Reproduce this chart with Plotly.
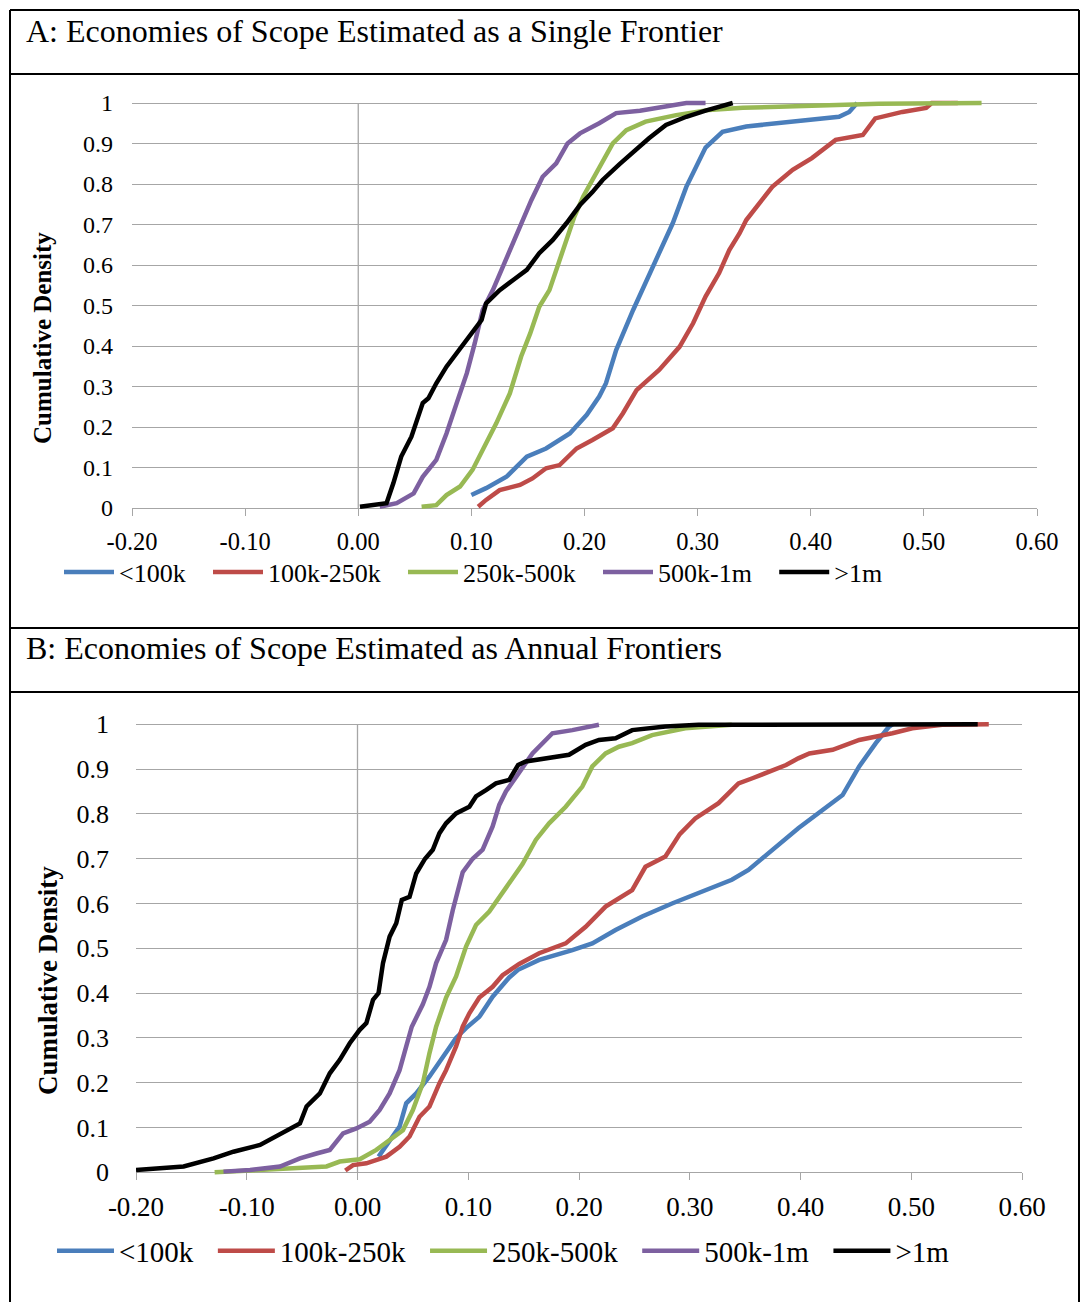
import plotly.graph_objects as go

# ---------------- data ----------------
series_names = ["<100k", "100k-250k", "250k-500k", "500k-1m", ">1m"]
series_colors = ["#4A7EBB", "#BE4B48", "#98B954", "#7D60A0", "#000000"]

x_ticks = [-0.2, -0.1, 0.0, 0.1, 0.2, 0.3, 0.4, 0.5, 0.6]
x_tick_labels = ["-0.20", "-0.10", "0.00", "0.10", "0.20", "0.30", "0.40", "0.50", "0.60"]
y_ticks = [0, 0.1, 0.2, 0.3, 0.4, 0.5, 0.6, 0.7, 0.8, 0.9, 1]
y_tick_labels = ["0", "0.1", "0.2", "0.3", "0.4", "0.5", "0.6", "0.7", "0.8", "0.9", "1"]

title_a = "A: Economies of Scope Estimated as a Single Frontier"
title_b = "B: Economies of Scope Estimated as Annual Frontiers"
y_title = "Cumulative Density"

# Panel A
a_lt100k_x = [0.100, 0.113, 0.131, 0.149, 0.166, 0.187, 0.202, 0.213, 0.219, 0.228, 0.243, 0.260, 0.278, 0.290, 0.296, 0.307, 0.322, 0.343, 0.425, 0.434, 0.441]
a_lt100k_y = [0.032, 0.049, 0.077, 0.127, 0.147, 0.184, 0.230, 0.275, 0.308, 0.390, 0.489, 0.596, 0.703, 0.793, 0.826, 0.890, 0.929, 0.942, 0.966, 0.978, 1.0]

a_100_250_x = [0.106, 0.113, 0.125, 0.143, 0.154, 0.166, 0.178, 0.193, 0.207, 0.225, 0.234, 0.246, 0.266, 0.284, 0.296, 0.307, 0.319, 0.328, 0.337, 0.343, 0.366, 0.384, 0.401, 0.422, 0.446, 0.457, 0.481, 0.502, 0.507, 0.530]
a_100_250_y = [0.003, 0.020, 0.044, 0.057, 0.073, 0.098, 0.106, 0.147, 0.168, 0.197, 0.234, 0.291, 0.341, 0.398, 0.456, 0.522, 0.580, 0.637, 0.678, 0.711, 0.793, 0.835, 0.864, 0.909, 0.921, 0.962, 0.978, 0.988, 1.0, 1.0]

a_250_500_x = [0.056, 0.069, 0.078, 0.090, 0.101, 0.110, 0.122, 0.134, 0.144, 0.152, 0.160, 0.169, 0.176, 0.184, 0.191, 0.199, 0.207, 0.216, 0.225, 0.237, 0.254, 0.281, 0.310, 0.340, 0.372, 0.460, 0.551]
a_250_500_y = [0.003, 0.007, 0.032, 0.053, 0.094, 0.143, 0.209, 0.283, 0.374, 0.431, 0.497, 0.538, 0.596, 0.662, 0.719, 0.770, 0.810, 0.859, 0.900, 0.933, 0.954, 0.970, 0.983, 0.988, 0.991, 0.998, 1.0]

a_500_1m_x = [0.019, 0.034, 0.049, 0.057, 0.069, 0.078, 0.087, 0.096, 0.103, 0.110, 0.119, 0.128, 0.137, 0.144, 0.153, 0.163, 0.175, 0.185, 0.196, 0.213, 0.228, 0.249, 0.272, 0.290, 0.307]
a_500_1m_y = [0.003, 0.012, 0.036, 0.077, 0.119, 0.184, 0.259, 0.333, 0.407, 0.489, 0.538, 0.596, 0.654, 0.703, 0.760, 0.818, 0.851, 0.900, 0.925, 0.950, 0.975, 0.981, 0.991, 1.0, 1.0]

a_gt1m_x = [0.0015, 0.025, 0.031, 0.038, 0.047, 0.057, 0.062, 0.069, 0.078, 0.090, 0.101, 0.109, 0.113, 0.125, 0.137, 0.149, 0.160, 0.172, 0.184, 0.196, 0.207, 0.216, 0.231, 0.243, 0.257, 0.272, 0.290, 0.307, 0.320, 0.331]
a_gt1m_y = [0.003, 0.012, 0.061, 0.127, 0.176, 0.259, 0.271, 0.308, 0.349, 0.394, 0.431, 0.464, 0.505, 0.538, 0.563, 0.588, 0.629, 0.662, 0.703, 0.748, 0.780, 0.810, 0.849, 0.880, 0.913, 0.946, 0.966, 0.981, 0.990, 1.0]

# Panel B
b_lt100k_x = [0.019, 0.029, 0.038, 0.044, 0.053, 0.065, 0.077, 0.089, 0.098, 0.110, 0.122, 0.137, 0.145, 0.164, 0.194, 0.212, 0.233, 0.257, 0.284, 0.308, 0.338, 0.353, 0.368, 0.398, 0.438, 0.453, 0.468, 0.480, 0.483]
b_lt100k_y = [0.035, 0.072, 0.102, 0.154, 0.176, 0.214, 0.258, 0.300, 0.322, 0.347, 0.392, 0.435, 0.452, 0.474, 0.496, 0.511, 0.541, 0.571, 0.600, 0.623, 0.653, 0.675, 0.705, 0.768, 0.842, 0.906, 0.958, 0.995, 1.0]

b_100_250_x = [-0.011, -0.004, 0.008, 0.017, 0.026, 0.038, 0.047, 0.056, 0.065, 0.074, 0.080, 0.089, 0.095, 0.101, 0.110, 0.122, 0.131, 0.146, 0.164, 0.188, 0.206, 0.224, 0.248, 0.260, 0.278, 0.291, 0.305, 0.326, 0.344, 0.356, 0.374, 0.387, 0.398, 0.408, 0.429, 0.453, 0.483, 0.501, 0.528, 0.570]
b_100_250_y = [0.004, 0.016, 0.020, 0.028, 0.035, 0.057, 0.080, 0.124, 0.147, 0.199, 0.228, 0.281, 0.325, 0.355, 0.390, 0.414, 0.440, 0.465, 0.489, 0.511, 0.548, 0.593, 0.630, 0.682, 0.705, 0.755, 0.790, 0.824, 0.868, 0.879, 0.898, 0.909, 0.924, 0.935, 0.943, 0.965, 0.980, 0.991, 0.999, 1.0]

b_250_500_x = [-0.129, -0.097, -0.067, -0.028, -0.016, 0.002, 0.017, 0.029, 0.041, 0.050, 0.059, 0.065, 0.071, 0.080, 0.089, 0.098, 0.107, 0.119, 0.131, 0.140, 0.149, 0.161, 0.173, 0.188, 0.203, 0.212, 0.224, 0.236, 0.248, 0.266, 0.296, 0.338]
b_250_500_y = [0.0, 0.004, 0.009, 0.013, 0.024, 0.029, 0.050, 0.072, 0.094, 0.139, 0.199, 0.266, 0.325, 0.390, 0.437, 0.504, 0.552, 0.582, 0.625, 0.653, 0.688, 0.742, 0.779, 0.816, 0.861, 0.906, 0.935, 0.950, 0.958, 0.976, 0.991, 0.999]

b_500_1m_x = [-0.121, -0.097, -0.070, -0.052, -0.037, -0.025, -0.013, -0.001, 0.011, 0.020, 0.029, 0.038, 0.044, 0.049, 0.059, 0.065, 0.071, 0.080, 0.086, 0.092, 0.095, 0.104, 0.113, 0.122, 0.128, 0.134, 0.146, 0.158, 0.176, 0.194, 0.218]
b_500_1m_y = [0.0015, 0.005, 0.013, 0.031, 0.042, 0.050, 0.087, 0.098, 0.113, 0.139, 0.176, 0.228, 0.281, 0.325, 0.375, 0.414, 0.467, 0.519, 0.585, 0.645, 0.670, 0.700, 0.720, 0.772, 0.820, 0.850, 0.891, 0.935, 0.980, 0.987, 0.999]

b_gt1m_x = [-0.2, -0.157, -0.130, -0.112, -0.088, -0.073, -0.064, -0.052, -0.046, -0.034, -0.025, -0.016, -0.007, 0.002, 0.008, 0.014, 0.019, 0.023, 0.029, 0.035, 0.040, 0.047, 0.053, 0.061, 0.068, 0.074, 0.080, 0.089, 0.101, 0.107, 0.116, 0.125, 0.137, 0.145, 0.152, 0.173, 0.191, 0.206, 0.218, 0.233, 0.248, 0.278, 0.308, 0.560]
b_gt1m_y = [0.005, 0.013, 0.031, 0.046, 0.061, 0.080, 0.094, 0.109, 0.147, 0.176, 0.221, 0.251, 0.288, 0.318, 0.333, 0.385, 0.400, 0.467, 0.526, 0.556, 0.608, 0.615, 0.667, 0.700, 0.720, 0.757, 0.779, 0.801, 0.816, 0.839, 0.853, 0.868, 0.876, 0.909, 0.917, 0.924, 0.932, 0.954, 0.965, 0.969, 0.987, 0.995, 0.999, 1.0]

panel_a = [(a_lt100k_x, a_lt100k_y), (a_100_250_x, a_100_250_y), (a_250_500_x, a_250_500_y),
           (a_500_1m_x, a_500_1m_y), (a_gt1m_x, a_gt1m_y)]
panel_b = [(b_lt100k_x, b_lt100k_y), (b_100_250_x, b_100_250_y), (b_250_500_x, b_250_500_y),
           (b_500_1m_x, b_500_1m_y), (b_gt1m_x, b_gt1m_y)]

# ---------------- layout helpers (pixels -> paper) ----------------
W, H = 1081, 1302
FONT = "Liberation Serif"
GRID = "#a6a6a6"
GAP_A = "\u00a0\u00a0\u2006"  # extra spacing between legend entries (panel A)
GAP_B = "\u00a0\u00a0"         # extra spacing between legend entries (panel B)


def px(xp):
    return xp / W


def py(yp):
    return 1 - yp / H


PAD = 0.012  # small y-range padding so lines at 0 and 1 are not clipped


def ydom(p0, p1):
    s = p0 - p1
    return [py(p0 + PAD * s), py(p1 - PAD * s)]


fig = go.Figure()

for (xs, ys), name, col in zip(panel_a, series_names, series_colors):
    fig.add_trace(go.Scatter(x=xs, y=ys, mode="lines", name=name + GAP_A,
                             line=dict(color=col, width=4.5),
                             xaxis="x", yaxis="y", legend="legend"))
for (xs, ys), name, col in zip(panel_b, series_names, series_colors):
    fig.add_trace(go.Scatter(x=xs, y=ys, mode="lines", name=name + GAP_B,
                             line=dict(color=col, width=4.5),
                             xaxis="x2", yaxis="y2", legend="legend2"))


def xaxis_cfg(dom, pos, fs, stand):
    return dict(domain=dom, range=[-0.2, 0.6], anchor="free", position=pos,
                tickvals=x_ticks, ticktext=x_tick_labels, showgrid=False,
                zeroline=False, showline=True, linecolor=GRID, linewidth=1.3,
                ticks="outside", ticklen=7, tickcolor=GRID, tickwidth=1.3,
                ticklabelstandoff=stand, layer="below traces", automargin=False,
                tickfont=dict(family=FONT, size=fs, color="black"))


def yaxis_cfg(dom, fs, standoff):
    return dict(domain=dom, range=[-PAD, 1 + PAD], tickvals=y_ticks, ticktext=y_tick_labels,
                showgrid=True, gridcolor=GRID, gridwidth=1.3, zeroline=False,
                showline=False, ticks="", ticklabelstandoff=standoff, automargin=False,
                tickfont=dict(family=FONT, size=fs, color="black"))


# Panel A geometry
A_x0, A_x1 = 132, 1037
A_y0, A_y1 = 508, 103
# Panel B geometry
B_x0, B_x1 = 136, 1022
B_y0, B_y1 = 1172.3, 724.3

fig.update_layout(
    template="none",
    width=W, height=H, margin=dict(l=0, r=0, t=0, b=0, autoexpand=False),
    paper_bgcolor="white", plot_bgcolor="white",
    font=dict(family=FONT, color="black"),
    xaxis=xaxis_cfg([px(A_x0), px(A_x1)], py(A_y0), 24.5, 4),
    yaxis=yaxis_cfg(ydom(A_y0, A_y1), 24, 18),
    xaxis2=xaxis_cfg([px(B_x0), px(B_x1)], py(B_y0), 27, 3),
    yaxis2=yaxis_cfg(ydom(B_y0, B_y1), 26, 22),
    legend=dict(orientation="h", x=px(59), y=py(572), xanchor="left", yanchor="middle",
                font=dict(family=FONT, size=26, color="black"), itemwidth=50,
                bgcolor="rgba(0,0,0,0)"),
    legend2=dict(orientation="h", x=px(52), y=py(1251), xanchor="left", yanchor="middle",
                 font=dict(family=FONT, size=29, color="black"), itemwidth=57,
                 bgcolor="rgba(0,0,0,0)"),
    showlegend=True,
)

for xr, yr in (("x", "y"), ("x2", "y2")):
    fig.add_shape(type="line", xref=xr, yref=yr, x0=0, x1=0, y0=0, y1=1,
                  line=dict(color=GRID, width=1.3), layer="below")

frame = dict(color="black", width=2)
for yy in (10, 74, 628, 692):
    fig.add_shape(type="line", xref="paper", yref="paper", x0=px(10), x1=px(1079),
                  y0=py(yy), y1=py(yy), line=frame)
for xx in (10, 1079):
    fig.add_shape(type="line", xref="paper", yref="paper", x0=px(xx), x1=px(xx),
                  y0=py(10), y1=py(1302), line=frame)

for t, yy in ((title_a, 31), (title_b, 648)):
    fig.add_annotation(text=t, xref="paper", yref="paper", x=px(24), y=py(yy),
                       xanchor="left", yanchor="middle", showarrow=False,
                       font=dict(family=FONT, size=32, color="black"))

# y-axis titles
for xx, yy, fs in ((42, 338, 25), (48, 981, 27)):
    fig.add_annotation(text="<b>" + y_title + "</b>", xref="paper", yref="paper",
                       x=px(xx), y=py(yy), xanchor="center", yanchor="middle",
                       textangle=-90, showarrow=False,
                       font=dict(family=FONT, size=fs, color="black"))

fig.write_html("out.html", config={"displayModeBar": False},
               post_script="document.body.style.margin='0';")
